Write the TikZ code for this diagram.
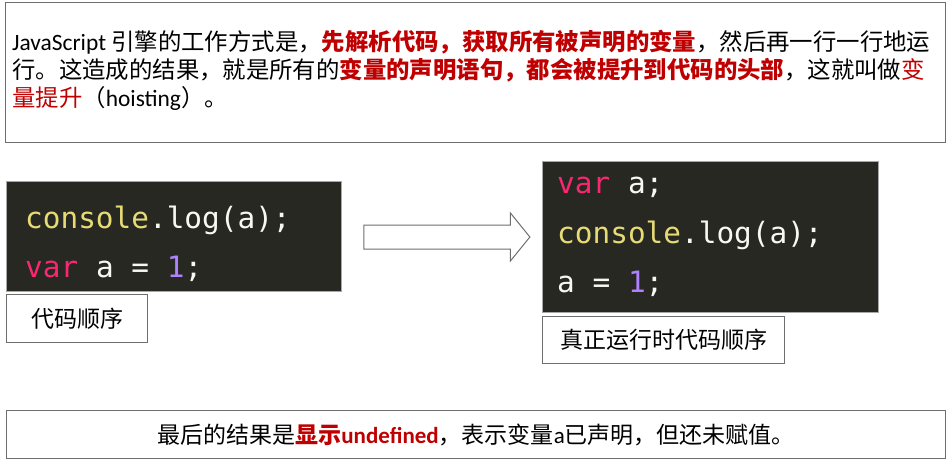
\documentclass[tikz,border=0pt]{standalone}
\usepackage{fontspec}
\setmainfont{Noto Sans CJK SC}
\newfontfamily\latinfont{Carlito}
\newfontfamily\codefont{DejaVu Sans Mono}
\usetikzlibrary{shapes.arrows, positioning, calc}
\definecolor{keyred}{HTML}{C00000}
\definecolor{codebg}{HTML}{272822}
\definecolor{codefg}{HTML}{F8F8F2}
\definecolor{codefn}{HTML}{E6DB74}
\definecolor{codekw}{HTML}{F92672}
\definecolor{codenum}{HTML}{AE81FF}
\definecolor{frame}{HTML}{6E6E6E}
\newcommand{\keytext}[1]{\textcolor{keyred}{\bfseries #1}}
\newcommand{\softkey}[1]{\textcolor{keyred}{#1}}
\tikzset{
  note box/.style={
    rectangle, draw=frame, line width=1.2pt, fill=white,
    inner sep=0pt
  },
  note text/.style={
    inner sep=0pt, align=left,
    font=\fontsize{23.4}{28}\selectfont
  },
  code panel/.style={
    rectangle, draw=frame!60, line width=0.8pt, fill=codebg,
    inner sep=0pt
  },
  code line/.style={
    inner sep=0pt, text=codefg,
    font=\codefont\fontsize{29.4}{34}\selectfont
  },
  tag box/.style={
    rectangle, draw=frame, line width=1.2pt, fill=white,
    inner sep=0pt, font=\fontsize{23}{26}\selectfont
  },
  flow arrow/.style={
    single arrow, draw=frame, line width=1pt, fill=white,
    inner xsep=0pt, inner ysep=11.5pt,
    single arrow head extend=12pt, single arrow tip angle=102,
    single arrow head indent=0pt, minimum height=166pt
  }
}
\begin{document}
\begin{tikzpicture}[x=1pt, y=-1pt]
  \useasboundingbox (0,0) rectangle (951,460);
  % Top explanation
  \node (intro) [note box, minimum width=940pt, minimum height=140pt,
    anchor=north west] at (5,2) {};
  \node (introtxt) [note text, anchor=north west] at (12,30)
    {{\latinfont JavaScript} 引擎的工作方式是，\keytext{先解析代码，获取所有被声明的变量}，然后再一行一行地运\\
     行。这造成的结果，就是所有的\keytext{变量的声明语句，都会被提升到代码的头部}，这就叫做\softkey{变}\\
     \softkey{量提升}（{\latinfont hoisting}）。};
  % Source order
  \node (src) [code panel, minimum width=335pt, minimum height=110pt,
    anchor=north west] at (6,181) {};
  \node (src1) [code line, anchor=base west] at (25,228)
    {\textcolor{codefn}{console}.log(a);};
  \node (src2) [code line, anchor=base west] at (25,277)
    {\textcolor{codekw}{var} a = \textcolor{codenum}{1};};
  \node (srctag) [tag box, minimum width=141pt, minimum height=48pt,
    anchor=north west] at (6,294) {代码顺序};
  % Hoisted order
  \node (run) [code panel, minimum width=336pt, minimum height=151pt,
    anchor=north west] at (542,161) {};
  \node (run1) [code line, anchor=base west] at (557,193)
    {\textcolor{codekw}{var} a;};
  \node (run2) [code line, anchor=base west] at (557,243)
    {\textcolor{codefn}{console}.log(a);};
  \node (run3) [code line, anchor=base west] at (557,292)
    {a = \textcolor{codenum}{1};};
  \node (runtag) [tag box, minimum width=242pt, minimum height=47pt,
    anchor=north west] at (542,316) {真正运行时代码顺序};
  % Transformation arrow
  \node (hoist) [flow arrow] at (442,237) {};
  % Result
  \node (result) [note box, minimum width=939pt, minimum height=48pt,
    anchor=north west, font=\fontsize{23}{26}\selectfont] at (6,410)
    {最后的结果是\keytext{显示{\latinfont undefined}}，表示变量{\latinfont a}已声明，但还未赋值。};
\end{tikzpicture}
\end{document}
